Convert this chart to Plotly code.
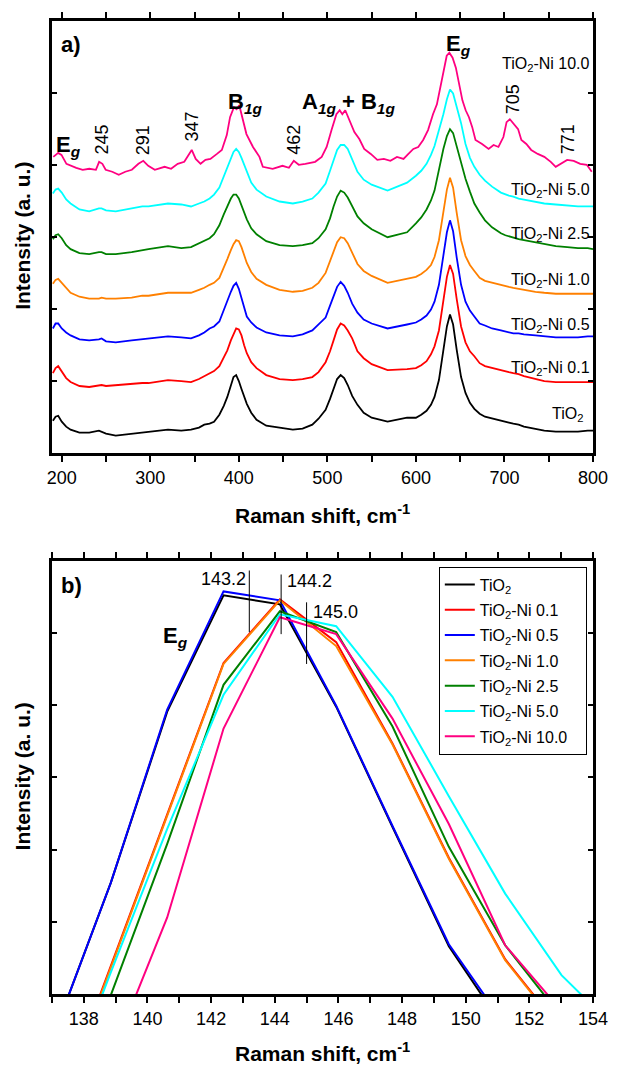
import plotly.graph_objects as go

FONT = "Liberation Sans, Arial, sans-serif"

# ---------------- data ----------------
series_names = ["TiO<sub>2</sub>", "TiO<sub>2</sub>-Ni 0.1", "TiO<sub>2</sub>-Ni 0.5",
                "TiO<sub>2</sub>-Ni 1.0", "TiO<sub>2</sub>-Ni 2.5", "TiO<sub>2</sub>-Ni 5.0",
                "TiO<sub>2</sub>-Ni 10.0"]
series_colors = ["#000000", "#ff0000", "#0000ff", "#ff8000", "#008000", "#00ffff", "#ff0080"]

# panel a) Raman shift (cm-1) and offset intensities (a.u.)
raman_x = [190, 193, 196, 200, 205, 210, 220, 231, 242, 245,
           250, 261, 279, 291, 298, 320, 335, 346, 355, 361,
           367, 372, 378, 383, 387, 391, 394, 397, 400, 403,
           406, 409, 414, 420, 431, 446, 461, 472, 483, 490,
           498, 503, 507, 511, 515, 519, 523, 528, 534, 541,
           550, 568, 590, 600, 606, 612, 617, 621, 626, 631,
           635, 638.5, 642, 646, 651, 656, 661, 666, 672, 678,
           686, 696, 701, 705, 710, 716, 722, 735, 745, 758,
           771, 783, 794, 800]

int_tio2 = [33, 37, 38, 32, 27, 24, 21, 21, 23, 22,
            20, 18, 20, 21, 22, 24, 23, 24, 26, 29,
            30, 32, 39, 48, 57, 69, 77, 79, 73, 65,
            57, 50, 41, 34, 28, 26, 24, 25, 29, 35,
            44, 55, 66, 75, 79, 76, 69, 58, 49, 41,
            36, 32, 36, 36, 39, 43, 49, 57, 74, 103,
            128, 140, 130, 105, 77, 61, 51, 45, 40, 37,
            35, 33, 32, 31, 30, 29, 27, 25, 23, 22,
            22, 22, 23, 23]
int_ni01 = [81, 86, 88, 83, 76, 72, 68, 67, 68, 69,
            68, 69, 70, 71, 71, 74, 73, 72, 75, 78,
            81, 83, 88, 97, 104, 114, 121, 126, 125, 119,
            109, 101, 92, 86, 79, 75, 74, 75, 77, 82,
            92, 103, 114, 125, 131, 129, 124, 116, 103, 96,
            90, 84, 85, 86, 89, 93, 100, 108, 124, 153,
            178, 190, 181, 156, 128, 112, 103, 98, 91, 88,
            86, 84, 83, 82, 81, 80, 78, 75, 73, 72,
            72, 72, 72, 72]
int_ni05 = [126, 131, 131, 126, 122, 119, 115, 114, 115, 116,
            113, 112, 114, 115, 116, 118, 117, 116, 119, 122,
            126, 128, 133, 145, 154, 163, 169, 172, 166, 157,
            147, 138, 132, 127, 122, 119, 118, 120, 124, 130,
            137, 149, 159, 168, 173, 169, 162, 151, 142, 135,
            131, 126, 130, 132, 135, 139, 145, 153, 170, 199,
            223, 235, 224, 198, 170, 153, 144, 138, 131, 129,
            126, 124, 123, 122, 121, 121, 120, 119, 118, 117,
            117, 117, 118, 118]
int_ni10 = [171, 175, 176, 172, 166, 162, 158, 156, 156, 157,
            156, 156, 157, 159, 159, 162, 162, 162, 165, 167,
            170, 172, 177, 187, 196, 205, 211, 215, 214, 208,
            200, 192, 183, 176, 170, 165, 163, 164, 167, 172,
            182, 194, 204, 213, 218, 217, 212, 203, 191, 184,
            179, 172, 176, 178, 181, 185, 190, 198, 215, 243,
            266, 278, 268, 243, 215, 199, 190, 184, 177, 174,
            172, 170, 169, 168, 167, 166, 165, 163, 162, 161,
            161, 161, 161, 161]
int_ni25 = [216, 220, 221, 217, 210, 206, 202, 201, 203, 203,
            201, 201, 203, 205, 206, 209, 207, 208, 212, 214,
            217, 221, 230, 241, 250, 257, 261, 261, 257, 250,
            243, 236, 227, 221, 214, 210, 209, 210, 212, 217,
            226, 237, 249, 259, 265, 263, 258, 249, 239, 232,
            226, 218, 223, 232, 238, 246, 255, 265, 287, 307,
            320, 327, 323, 310, 294, 277, 264, 252, 243, 235,
            228, 222, 220, 219, 217, 216, 215, 213, 211, 209,
            208, 207, 207, 206]
int_ni50 = [262, 266, 267, 263, 256, 252, 246, 244, 247, 247,
            245, 244, 247, 249, 249, 252, 251, 249, 252, 254,
            257, 261, 268, 279, 289, 298, 304, 307, 304, 298,
            291, 283, 273, 266, 259, 254, 252, 254, 257, 263,
            272, 285, 296, 306, 311, 311, 307, 296, 284, 276,
            271, 265, 273, 280, 285, 292, 301, 310, 325, 342,
            357, 367, 363, 349, 333, 312, 298, 289, 281, 275,
            269, 263, 261, 260, 259, 257, 256, 254, 252, 251,
            250, 249, 249, 249]

# the noisier 10.0 spectrum, read on its own (denser) grid
pink_x = [190.5, 196, 199.7, 205.3, 216.4, 223.7, 231.1, 238.6, 242.2, 245.9,
          249.6, 257, 264.4, 271.8, 279.2, 286.6, 292.1, 297.7, 305.1, 316.2,
          323.5, 331, 338.4, 343.9, 346.8, 351.3, 356.8, 362.3, 367.9, 375.3,
          380.8, 386.4, 390.1, 394.5, 397.5, 400.5, 404.9, 408.6, 416, 423.3,
          427.1, 438.2, 449.3, 456.6, 462.1, 467.7, 475.1, 486.2, 493.6, 499.2,
          504.7, 510.2, 513.9, 516.9, 520.2, 525, 530.5, 536.1, 541.6, 549,
          556.4, 563.8, 571.2, 578.6, 586, 591.5, 597.1, 602.6, 608.2, 613.7,
          619.3, 623.7, 628.5, 632.2, 634.8, 637.8, 641.4, 645.1, 648.9, 652.5,
          656.2, 659.9, 663.6, 667.3, 674.7, 682.1, 687.7, 693.2, 698.8, 702.4,
          706.1, 711, 715.4, 719.1, 724.7, 730.2, 737.6, 745, 752.3, 757.9,
          763.4, 770.8, 778.2, 785.6, 793, 798.6]
int_ni100 = [299, 303, 301, 292, 288, 286, 287, 286, 294, 292,
             286, 284, 281, 284, 286, 292, 295, 290, 286, 289,
             287, 292, 294, 302, 306, 297, 292, 296, 297, 302,
             306, 321, 339, 349, 347, 351, 336, 322, 309, 299,
             289, 287, 290, 288, 295, 291, 292, 294, 299, 309,
             326, 342, 346, 342, 346, 336, 324, 317, 307, 302,
             296, 297, 295, 299, 297, 302, 307, 309, 316, 326,
             342, 352, 372, 389, 401, 404, 399, 389, 372, 356,
             346, 339, 329, 316, 312, 307, 311, 309, 319, 334,
             337, 332, 327, 316, 312, 306, 302, 299, 294, 289,
             292, 296, 295, 292, 291, 284]

# panel b) Eg band detail
eg_x = [137.08, 138.85, 140.62, 142.39, 144.16, 145.93, 147.70, 149.47, 151.24, 153.01, 154.78]
eg_tio2 = [-39, 112, 284, 401, 392, 289, 168, 48, -36]
eg_ni01 = [-124, 28, 180, 333, 397, 354, 252, 137, 35, -36]
eg_ni05 = [-39, 112, 286, 405, 396, 290, 169, 50, -31]
eg_ni10 = [-126, 27, 180, 332, 396, 350, 251, 136, 34, -37]
eg_ni25 = [-153, 0, 151, 311, 385, 364, 269, 148, 49, -23]
eg_ni50 = [-126, 22, 166, 301, 382, 370, 299, 199, 101, 19, -37]
eg_ni100 = [-180, -64, 77, 267, 379, 362, 277, 171, 49, -17]

peak_marks = [143.2, 144.2, 145.0]
peak_mark_labels = ["143.2", "144.2", "145.0"]

top_labels = ["245", "291", "347", "462", "705", "771"]

# ---------------- figure ----------------
fig = go.Figure()

top_x = [raman_x] * 6 + [pink_x]
top_series = [int_tio2, int_ni01, int_ni05, int_ni10, int_ni25, int_ni50, int_ni100]
for name, col, xs, vals in zip(series_names, series_colors, top_x, top_series):
    fig.add_trace(go.Scatter(x=xs, y=vals, mode="lines", name=name,
                             line=dict(color=col, width=1.8),
                             showlegend=False, xaxis="x", yaxis="y"))

eg_series = [eg_tio2, eg_ni01, eg_ni05, eg_ni10, eg_ni25, eg_ni50, eg_ni100]
for i, (name, col, vals) in enumerate(zip(series_names, series_colors, eg_series)):
    fig.add_trace(go.Scatter(x=eg_x[:len(vals)], y=vals, mode="lines",
                             name=name + "&nbsp;&nbsp;&nbsp;",
                             line=dict(color=col, width=2),
                             legendgroup="g%d" % i,
                             showlegend=True, xaxis="x2", yaxis="y2"))

axis_common = dict(showline=True, linewidth=3, linecolor="black", mirror="allticks",
                   showgrid=False, zeroline=False, tickcolor="black")

fig.update_layout(
    width=620, height=1069,
    margin=dict(l=52, r=17, t=13, b=75),
    paper_bgcolor="white", plot_bgcolor="white",
    font=dict(family=FONT, color="black", size=16),
    xaxis=dict(domain=[0, 1], anchor="y", range=[189, 800], tick0=200, dtick=100,
               ticks="outside", ticklen=6, tickwidth=2,
               minor=dict(dtick=50, ticks="outside", ticklen=6, tickwidth=2, tickcolor="black"),
               tickfont=dict(size=18), **axis_common),
    yaxis=dict(domain=[0.55556, 1], anchor="x", range=[0, 436], tick0=0, dtick=436 / 6,
               ticks="inside", ticklen=5, tickwidth=2, showticklabels=False, **axis_common),
    xaxis2=dict(domain=[0, 1], anchor="y2", range=[137, 154], tick0=138, dtick=2,
                ticks="outside", ticklen=6, tickwidth=2,
                minor=dict(dtick=1, ticks="outside", ticklen=6, tickwidth=2, tickcolor="black"),
                tickfont=dict(size=18), **axis_common),
    yaxis2=dict(domain=[0, 0.44546], anchor="x2", range=[0, 436], tick0=0, dtick=436 / 6,
                ticks="inside", ticklen=5, tickwidth=2, showticklabels=False, **axis_common),
    legend=dict(x=0.715, y=0.4393, xanchor="left", yanchor="top",
                bordercolor="black", borderwidth=1, bgcolor="white",
                font=dict(size=16), tracegroupgap=1.5),
)

ann = []
# axis titles
for yc in [0.7788, 0.2232]:
    ann.append(dict(xref="paper", yref="paper", x=-0.0544, y=yc, text="<b>Intensity (a. u.)</b>",
                    textangle=-90, showarrow=False, font=dict(size=21),
                    xanchor="center", yanchor="middle"))
for yc in [0.4933, -0.0601]:
    ann.append(dict(xref="paper", yref="paper", x=0.5, y=yc, text="<b>Raman shift, cm<sup>-1</sup></b>",
                    showarrow=False, font=dict(size=21), xanchor="center", yanchor="middle"))

# panel a) labels
ann.append(dict(xref="x", yref="y", x=211, y=412, text="<b>a)</b>", showarrow=False,
                font=dict(size=22), xanchor="center", yanchor="middle"))
ann.append(dict(xref="x", yref="y", x=191, y=310, text="<b>E<sub><i>g</i></sub></b>", showarrow=False,
                font=dict(size=22), xanchor="left", yanchor="middle"))
ann.append(dict(xref="x", yref="y", x=386, y=353, text="<b>B<sub><i>1g</i></sub></b>", showarrow=False,
                font=dict(size=22), xanchor="left", yanchor="middle"))
ann.append(dict(xref="x", yref="y", x=469, y=353,
                text="<b>A<sub><i>1g</i></sub> + B<sub><i>1g</i></sub></b>", showarrow=False,
                font=dict(size=22), xanchor="left", yanchor="middle"))
ann.append(dict(xref="x", yref="y", x=632, y=412, text="<b>E<sub><i>g</i></sub></b>", showarrow=False,
                font=dict(size=22), xanchor="left", yanchor="middle"))

top_label_x = [246, 292, 347.6, 462, 709.6, 772]
top_label_y = [317, 316, 330, 316, 357, 317]
for t, xx, yy in zip(top_labels, top_label_x, top_label_y):
    ann.append(dict(xref="x", yref="y", x=xx, y=yy, text=t, textangle=-90, showarrow=False,
                    font=dict(size=18), xanchor="center", yanchor="middle"))

right_label_y = [39, 86, 129, 174, 221, 265, 392]
right_label_x = [791, 799, 799, 799, 799, 799, 799]
for name, xx, yy in zip(series_names, right_label_x, right_label_y):
    ann.append(dict(xref="x", yref="y", x=xx, y=yy, text=name, showarrow=False,
                    font=dict(size=16), xanchor="right", yanchor="middle"))

# panel b) labels
ann.append(dict(xref="x2", yref="y2", x=137.62, y=411, text="<b>b)</b>", showarrow=False,
                font=dict(size=22), xanchor="center", yanchor="middle"))
ann.append(dict(xref="x2", yref="y2", x=140.43, y=359, text="<b>E<sub><i>g</i></sub></b>", showarrow=False,
                font=dict(size=22), xanchor="left", yanchor="middle"))

mark_y0 = [364, 362, 332]
mark_y1 = [426, 422, 394]
lab_x = [143.15, 144.33, 145.13]
lab_anchor = ["right", "left", "left"]
lab_y = [417, 415, 384]
shapes = []
for xm, y0, y1, lx, la, ly, lt in zip(peak_marks, mark_y0, mark_y1, lab_x, lab_anchor, lab_y, peak_mark_labels):
    shapes.append(dict(type="line", xref="x2", yref="y2", x0=xm, x1=xm, y0=y0, y1=y1,
                       line=dict(color="black", width=1)))
    ann.append(dict(xref="x2", yref="y2", x=lx, y=ly, text=lt, showarrow=False,
                    font=dict(size=18), xanchor=la, yanchor="middle"))

fig.update_layout(annotations=ann, shapes=shapes)

fig.write_html("out.html",
               config={"displayModeBar": False},
               post_script="document.body.style.margin='0px';document.body.style.overflow='hidden';")
